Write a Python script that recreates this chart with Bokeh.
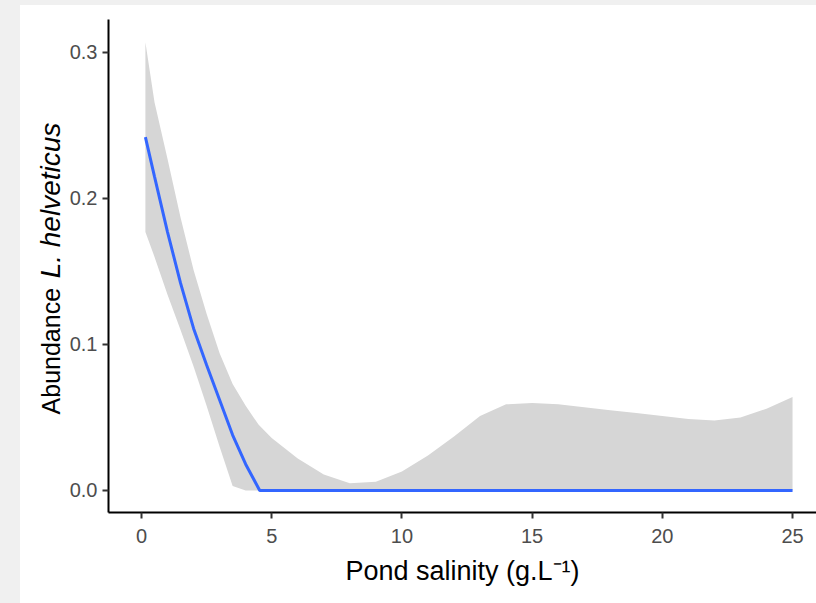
import numpy as np
from bokeh.plotting import figure
from bokeh.models import Range1d, FixedTicker, PrintfTickFormatter
from bokeh.core.properties import value
from bokeh.layouts import row, column
from bokeh.embed import file_html
from bokeh.resources import INLINE

# Confidence ribbon (shared x grid)
band_x = [0.15, 0.5, 1.0, 1.5, 2.0, 2.5, 3.0, 3.5, 4.0, 4.5, 5.0, 6.0, 7.0, 8.0, 9.0,
          10.0, 11.0, 12.0, 13.0, 14.0, 15.0, 16.0, 17.0, 18.0, 19.0, 20.0, 21.0,
          22.0, 23.0, 24.0, 25.0]
band_upper = [0.307, 0.266, 0.227, 0.187, 0.151, 0.121, 0.094, 0.073, 0.058, 0.045,
              0.036, 0.022, 0.011, 0.005, 0.006, 0.013, 0.024, 0.037, 0.051, 0.059,
              0.060, 0.059, 0.057, 0.055, 0.053, 0.051, 0.049, 0.048, 0.050, 0.056,
              0.064]
band_lower = [0.177, 0.160, 0.134, 0.110, 0.085, 0.058, 0.030, 0.003, 0.0, 0.0,
              0.0, 0.0, 0.0, 0.0, 0.0, 0.0, 0.0, 0.0, 0.0, 0.0, 0.0, 0.0, 0.0,
              0.0, 0.0, 0.0, 0.0, 0.0, 0.0, 0.0, 0.0]

# Fitted line
fit_x = [0.15, 0.5, 1.0, 1.5, 2.0, 2.5, 3.0, 3.5, 4.0, 4.54, 10.0, 15.0, 20.0, 25.0]
fit_y = [0.242, 0.215, 0.177, 0.142, 0.111, 0.086, 0.062, 0.038, 0.018, 0.0,
         0.0, 0.0, 0.0, 0.0]

x_ticks = [0, 5, 10, 15, 20, 25]
y_ticks = [0.0, 0.1, 0.2, 0.3]

y_title_plain = "Abundance"
y_title_italic = "L. helveticus"
x_title = "Pond salinity (g.L\u207b\u00b9)"

y_range = Range1d(-0.01507, 0.3226)

# main plot
p = figure(width=750, height=598, output_backend="svg", toolbar_location=None,
           x_range=Range1d(-1.267, 25.92), y_range=y_range,
           min_border_left=42, min_border_top=14, min_border_bottom=91,
           min_border_right=0)
p.background_fill_color = "white"
p.border_fill_color = "white"
p.outline_line_color = None
p.grid.visible = False

p.varea(x=band_x, y1=band_lower, y2=band_upper, fill_color="#d6d6d6", fill_alpha=1.0)
p.line(x=fit_x, y=fit_y, line_color="#3366FF", line_width=3)

for ax in (p.xaxis[0], p.yaxis[0]):
    ax.axis_line_color = "black"
    ax.axis_line_width = 2
    ax.major_tick_line_color = "#333333"
    ax.major_tick_line_width = 2
    ax.major_tick_in = 0
    ax.major_tick_out = 6
    ax.minor_tick_line_color = None
    ax.major_label_text_font = "Liberation Sans"
    ax.major_label_text_font_size = "20px"
    ax.major_label_text_color = "#4d4d4d"

p.xaxis[0].ticker = FixedTicker(ticks=x_ticks)
p.yaxis[0].ticker = FixedTicker(ticks=y_ticks)
p.yaxis[0].formatter = PrintfTickFormatter(format="%.1f")
p.xaxis[0].major_label_standoff = 10
p.yaxis[0].major_label_standoff = 5

p.xaxis[0].axis_label = x_title
p.xaxis[0].axis_label_text_font = "Liberation Sans"
p.xaxis[0].axis_label_text_font_size = "27px"
p.xaxis[0].axis_label_text_font_style = "normal"
p.xaxis[0].axis_label_text_color = "black"
p.xaxis[0].axis_label_standoff = 10

# narrow left panel holding the y-axis title (mixed upright / italic)
pl = figure(width=46, height=598, output_backend="svg", toolbar_location=None,
            x_range=Range1d(0, 46), y_range=y_range,
            x_axis_type=None, y_axis_type=None,
            min_border_left=0, min_border_right=0, min_border_top=14,
            min_border_bottom=91)
pl.background_fill_color = "white"
pl.border_fill_color = "white"
pl.outline_line_color = None
pl.grid.visible = False

pl.text(x=[30], y=[0.0521], text=[y_title_plain], angle=np.pi / 2,
        text_align="left", text_baseline="middle",
        text_font=value("Liberation Sans"), text_font_size="25px",
        text_color="black")
pl.text(x=[30], y=[0.1986], text=[y_title_italic], angle=np.pi / 2,
        text_align="center", text_baseline="middle",
        text_font=value("Liberation Sans"), text_font_size="28px",
        text_font_style="italic", text_color="black")

inner = row(pl, p, margin=(5, 0, 0, 20), styles={"background-color": "white"})
layout = column(inner, width=816, height=603,
                styles={"background-color": "#f0f0f0"})

open("out.html", "w").write(file_html(layout, INLINE))
